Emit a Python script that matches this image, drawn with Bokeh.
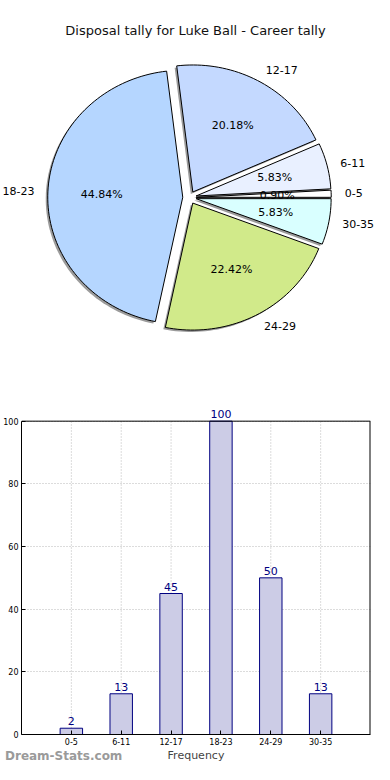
import numpy as np
from bokeh.plotting import figure
from bokeh.models import (Range1d, Label, FixedTicker, ColumnDataSource,
                          Span, Div)
from bokeh.embed import file_html
from bokeh.resources import INLINE
from bokeh.core.properties import value

# ---------------- data ----------------
title = "Disposal tally for Luke Ball - Career tally"
categories = ["0-5", "6-11", "12-17", "18-23", "24-29", "30-35"]
counts = [2, 13, 45, 100, 50, 13]
pie_colors = ["#ffffff", "#e9f0ff", "#c4d9ff", "#b5d6ff", "#d1ea8a", "#d9ffff"]
y_ticks = [0, 20, 40, 60, 80, 100]
y_max = 100
x_axis_label = "Frequency"
watermark = "Dream-Stats.com"

FONT = "DejaVu Sans"

# ---------------- pie ----------------
W = 374
H1 = 400
cx_px, cy_px = 189, 197      # pie centre (px from top-left of figure)
rx_px, ry_px = 135, 127      # ellipse radii in px
explode = 0.05
shadow_off = 0.015

p1 = figure(width=W, height=H1, output_backend="svg", toolbar_location=None,
            x_range=Range1d(-cx_px / rx_px, (W - cx_px) / rx_px),
            y_range=Range1d(-(H1 - cy_px) / ry_px, cy_px / ry_px),
            min_border=0, min_border_left=0, min_border_right=0,
            min_border_top=0, min_border_bottom=0)
p1.axis.visible = False
p1.grid.visible = False
p1.outline_line_color = None

total = float(sum(counts))
fracs = [c / total for c in counts]
xs, ys, sxs, sys_ = [], [], [], []
lab_x, lab_y, lab_align = [], [], []
pct_x, pct_y, pct_t = [], [], []
start = 0.0
for f in fracs:
    t1 = 2 * np.pi * start
    t2 = 2 * np.pi * (start + f)
    tm = 0.5 * (t1 + t2)
    ox, oy = explode * np.cos(tm), explode * np.sin(tm)
    n = max(4, int(200 * f) + 2)
    tt = np.linspace(t1, t2, n)
    px = np.concatenate([[ox], ox + np.cos(tt), [ox]])
    py = np.concatenate([[oy], oy + np.sin(tt), [oy]])
    xs.append(list(px)); ys.append(list(py))
    sxs.append(list(px - shadow_off)); sys_.append(list(py - shadow_off))
    lab_x.append(ox + 1.1 * np.cos(tm)); lab_y.append(oy + 1.1 * np.sin(tm))
    lab_align.append("left" if np.cos(tm) > 0 else "right")
    pct_x.append(ox + 0.6 * np.cos(tm)); pct_y.append(oy + 0.6 * np.sin(tm))
    pct_t.append("%.2f%%" % (100 * f))
    start += f

p1.patches(xs=sxs, ys=sys_, fill_color="#7a7a7a", fill_alpha=0.75, line_color=None)
p1.patches(xs=xs, ys=ys, fill_color=pie_colors, line_color="black", line_width=1)

src_lab = ColumnDataSource(dict(x=lab_x, y=lab_y, t=categories, a=lab_align))
p1.text(x="x", y="y", text="t", text_align="a", source=src_lab,
        text_baseline="middle", text_font=value(FONT), text_font_size="11px",
        text_color="black")
p1.text(x=pct_x, y=pct_y, text=pct_t, text_align="center",
        text_baseline="middle", text_font=value(FONT), text_font_size="11px",
        text_color="black")

p1.add_layout(Label(x=195, y=H1 - 30, x_units="screen", y_units="screen",
                    text=title, text_align="center", text_baseline="middle",
                    text_font=FONT, text_font_size="13px", text_color="#111111"))

# ---------------- bars ----------------
H2 = 364
idx = list(range(len(categories)))
x_lo, x_hi = -1, len(categories)
p2 = figure(width=W, height=H2, output_backend="svg", toolbar_location=None,
            x_range=Range1d(x_lo, x_hi), y_range=Range1d(0, y_max * 1.05),
            min_border_left=19, min_border_right=4, min_border_top=5,
            min_border_bottom=24)

# vertical dotted grid lines, stopping at the top of the box
p2.segment(x0=idx, y0=[0] * len(idx), x1=idx, y1=[y_max] * len(idx),
           line_color="#b8b8b8", line_dash="1 2", line_width=1)
p2.xgrid.visible = False

p2.vbar(x=idx, top=counts, width=0.45, fill_color="#cccce6",
        line_color="#000080", line_width=1)
p2.text(x=idx, y=counts, text=[str(c) for c in counts], text_align="center",
        text_baseline="bottom", y_offset=-3, text_font=value(FONT),
        text_font_size="11px", text_color="#000080")

p2.xaxis.ticker = FixedTicker(ticks=idx)
p2.xaxis.major_label_overrides = {i: c for i, c in zip(idx, categories)}
p2.yaxis.ticker = FixedTicker(ticks=y_ticks)
p2.yaxis.bounds = (0, y_max)
p2.ygrid.ticker = FixedTicker(ticks=y_ticks)
p2.ygrid.grid_line_color = "#b8b8b8"
p2.ygrid.grid_line_dash = "1 2"
p2.ygrid.grid_line_width = 1

for ax in (p2.xaxis[0], p2.yaxis[0]):
    ax.major_tick_in = 4
    ax.major_tick_out = 0
    ax.minor_tick_line_color = None
    ax.axis_line_color = "black"
    ax.major_label_text_font = FONT
    ax.major_label_text_color = "black"
    ax.major_label_text_font_size = "8px"
    ax.major_label_standoff = 3
p2.xaxis.axis_label = x_axis_label
p2.xaxis.axis_label_text_font = FONT
p2.xaxis.axis_label_text_font_size = "11px"
p2.xaxis.axis_label_text_font_style = "normal"
p2.xaxis.axis_label_standoff = 1
p2.outline_line_color = None

# box: top edge at y_max, right edge at the end of the x range
p2.add_layout(Span(location=y_max, dimension="width", line_color="black",
                   line_width=1))
p2.segment(x0=[x_hi], y0=[0], x1=[x_hi], y1=[y_max], line_color="black",
           line_width=2)

div = Div(text=watermark, width=120, height=16,
          styles={"margin-top": "-16px", "color": "#9a9a9a",
                  "font-weight": "bold", "font-family": "DejaVu Sans",
                  "font-size": "12px", "line-height": "16px"})

open("out.html", "w").write(file_html([p1, p2, div], INLINE))
